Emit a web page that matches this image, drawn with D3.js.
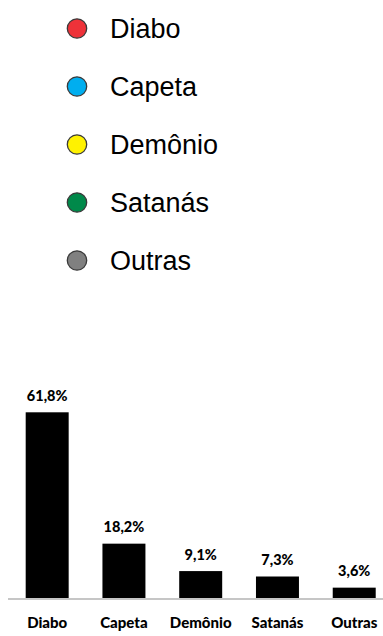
<!DOCTYPE html>
<html>
<head>
<meta charset="utf-8">
<script src="https://cdn.jsdelivr.net/npm/d3@7"></script>
<style>
  body { margin: 0; background: #fff; }
  svg { display: block; }
</style>
</head>
<body>
<script>
let names = ["Diabo", "Capeta", "Demônio", "Satanás", "Outras"];
let values = [61.8, 18.2, 9.1, 7.3, 3.6];
let labels = ["61,8%", "18,2%", "9,1%", "7,3%", "3,6%"];
let colors = ["#ee3239", "#00aeef", "#fff200", "#00894a", "#808080"];

let w = 383;
let h = 636;

let svg = d3.select("body")
            .append("svg")
            .attr("width", w)
            .attr("height", h);

// legend
let legY = d3.scalePoint()
             .domain(names)
             .range([28.5, 260.5]);

let legend = svg.selectAll(".legend")
    .data(names)
    .enter().append("g")
    .attr("class", "legend")
    .attr("transform", (d) => "translate(0," + legY(d) + ")");

legend.append("circle")
    .attr("cx", 77)
    .attr("cy", 0)
    .attr("r", 9.7)
    .attr("fill", (d,i) => colors[i])
    .attr("stroke", "#3a3a3a")
    .attr("stroke-width", 1.3);

legend.append("text")
    .attr("x", 110)
    .attr("y", 9.3)
    .style("font-family", "'Liberation Sans', Arial, sans-serif")
    .style("font-size", "27px")
    .style("fill", "#000")
    .text((d) => d);

// bars
let base = 598.5;

let xScale = d3.scaleBand()
               .domain(names)
               .range([8.8, 392.6])
               .paddingInner(0.44)
               .paddingOuter(0.22);

let yScale = d3.scaleLinear()
               .domain([0, 61.8])
               .range([base, 412.3]);

svg.append("g")
   .selectAll("rect")
   .data(values)
   .enter()
   .append("rect")
   .attr("x", (d,i) => xScale(names[i]))
   .attr("y", (d) => yScale(d))
   .attr("width", xScale.bandwidth())
   .attr("height", (d) => base - yScale(d))
   .attr("fill", "#000");

svg.append("line")
   .attr("x1", 8)
   .attr("x2", w)
   .attr("y1", base + 0.5)
   .attr("y2", base + 0.5)
   .attr("stroke", "#c6c6c6")
   .attr("stroke-width", 2);

// value labels
svg.append("g")
   .selectAll("text")
   .data(values)
   .enter()
   .append("text")
   .attr("x", (d,i) => xScale(names[i]) + xScale.bandwidth() / 2)
   .attr("y", (d) => yScale(d) - 11.5)
   .attr("text-anchor", "middle")
   .style("font-family", "Lato, 'Open Sans', sans-serif")
   .style("font-weight", "900")
   .style("font-size", "14.5px")
   .text((d,i) => labels[i]);

// category axis labels
let xAxis = d3.axisBottom(xScale).tickSize(0).tickPadding(0);

let ax = svg.append("g")
    .attr("transform", "translate(0," + base + ")")
    .call(xAxis);

ax.select(".domain").remove();
ax.selectAll("text")
  .attr("y", 29)
  .attr("dy", 0)
  .style("font-family", "Lato, 'Open Sans', sans-serif")
  .style("font-weight", "900")
  .style("font-size", "15px")
  .style("fill", "#000");
</script>
</body>
</html>
